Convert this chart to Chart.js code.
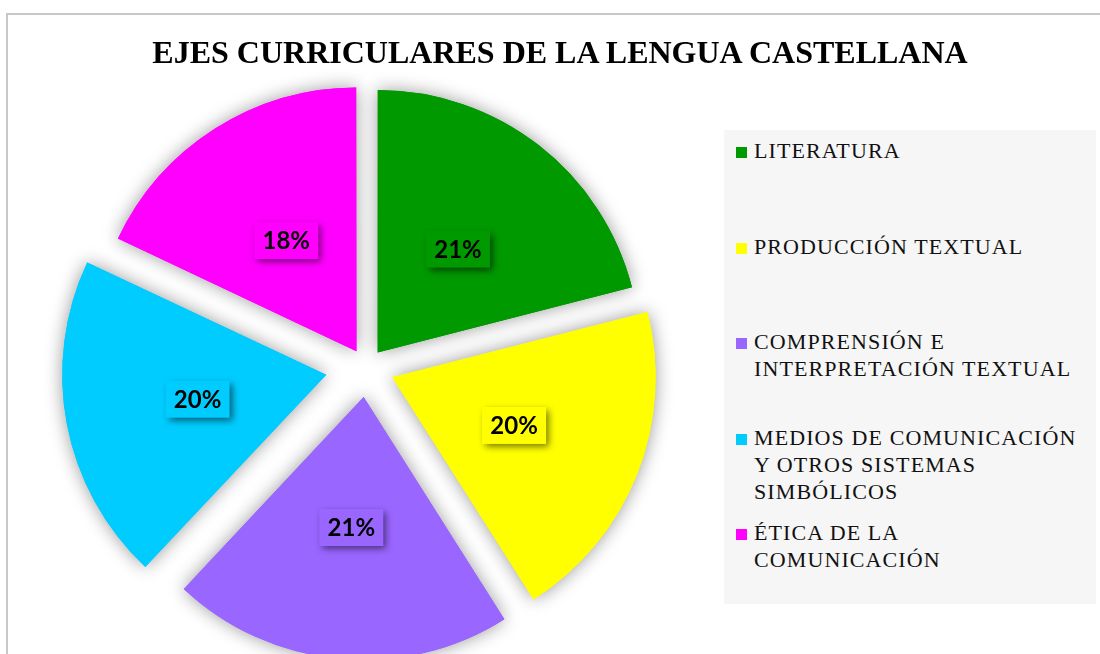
<!DOCTYPE html>
<html lang="es">
<head>
<meta charset="utf-8">
<title>Ejes curriculares de la lengua castellana</title>
<script src="https://cdn.jsdelivr.net/npm/chart.js@4.4.1/dist/chart.umd.min.js"></script>
<style>
  html, body { margin: 0; padding: 0; background: #fff; }
  body { width: 1100px; height: 654px; overflow: hidden; position: relative; }
  #marco { position: absolute; left: 6px; top: 13px; width: 1200px; height: 800px;
           border-top: 2px solid #c8c8c8; border-left: 2px solid #c8c8c8; }
  #titulo { position: absolute; left: 0; width: 1120px; top: 34px; text-align: center;
            font: bold 32px "Liberation Serif", "Times New Roman", serif; color: #000;
            white-space: nowrap; z-index: 2; }
  #lienzo { position: absolute; left: 0; top: 0; width: 733px; height: 734px; }
  #leyenda { position: absolute; left: 724px; top: 130px; width: 372px; height: 474px;
             background: #f6f6f6; z-index: 2; box-sizing: border-box; padding-top: 7px; }
  .item { position: relative; height: 95.5px; padding-left: 30px;
          font: 22px "Liberation Serif", "Times New Roman", serif; letter-spacing: 1.1px;
          line-height: 27px; color: #111; white-space: nowrap; }
  .item i { position: absolute; left: 12px; top: 10px; width: 11px; height: 11px; }
</style>
</head>
<body>
<div id="marco"></div>
<div id="titulo">EJES CURRICULARES DE LA LENGUA CASTELLANA</div>
<div id="lienzo"><canvas id="graficoEjes"></canvas></div>
<div id="leyenda"></div>
<script>
// --- datos ---
const categorias = [
  ['LITERATURA'],
  ['PRODUCCIÓN TEXTUAL'],
  ['COMPRENSIÓN E', 'INTERPRETACIÓN TEXTUAL'],
  ['MEDIOS DE COMUNICACIÓN', 'Y OTROS SISTEMAS', 'SIMBÓLICOS'],
  ['ÉTICA DE LA', 'COMUNICACIÓN']
];
const porcentajes = [21, 20, 21, 20, 18];
const colores = ['#009900', '#ffff00', '#9966ff', '#00ccff', '#ff00ff'];

// sombra suave bajo las porciones (se pinta antes, luego encima van las porciones limpias)
const sombraPorciones = {
  id: 'sombraPorciones',
  beforeDatasetsDraw(chart) {
    const ctx = chart.ctx;
    const meta = chart.getDatasetMeta(0);
    ctx.save();
    ctx.shadowColor = 'rgba(0,0,0,0.4)';
    ctx.shadowBlur = 18;
    meta.data.forEach(arc => arc.draw(ctx));
    ctx.restore();
  }
};

// etiquetas de porcentaje con caja y sombra
const etiquetas = {
  id: 'etiquetas',
  afterDatasetsDraw(chart) {
    const ctx = chart.ctx;
    const meta = chart.getDatasetMeta(0);
    const datos = chart.data.datasets[0].data;
    const total = datos.reduce((a, b) => a + b, 0);
    meta.data.forEach((arc, i) => {
      const ang = (arc.startAngle + arc.endAngle) / 2;
      const d = (arc.options.offset || 0) / 4 + arc.outerRadius / 2;
      const x = arc.x + Math.cos(ang) * d;
      const y = arc.y + Math.sin(ang) * d;
      const w = 64, h = 37;
      ctx.save();
      ctx.shadowColor = 'rgba(0,0,0,0.55)';
      ctx.shadowBlur = 7;
      ctx.shadowOffsetX = 3;
      ctx.shadowOffsetY = 3;
      ctx.fillStyle = colores[i];
      ctx.fillRect(x - w / 2, y - h / 2, w, h);
      ctx.restore();
      ctx.save();
      ctx.font = 'bold 24px Lato, "Liberation Sans", sans-serif';
      ctx.fillStyle = '#000';
      ctx.textAlign = 'center';
      ctx.textBaseline = 'middle';
      ctx.fillText(Math.round(datos[i] / total * 100) + '%', x, y + 1);
      ctx.restore();
    });
  }
};

const ctx = document.getElementById('graficoEjes').getContext('2d');
new Chart(ctx, {
  type: 'pie',
  data: {
    labels: categorias,
    datasets: [{
      label: 'Porcentaje',
      data: porcentajes,
      backgroundColor: colores,
      borderWidth: 0,
      radius: 262,
      offset: [73, 111, 121, 164, 75],
      hoverOffset: 0
    }]
  },
  options: {
    responsive: true,
    maintainAspectRatio: false,
    animation: false,
    layout: { padding: 0 },
    plugins: {
      legend: { display: false },
      title: { display: false },
      tooltip: { enabled: false }
    }
  },
  plugins: [sombraPorciones, etiquetas]
});

// leyenda a la derecha
const leyenda = document.getElementById('leyenda');
categorias.forEach((lineas, i) => {
  const div = document.createElement('div');
  div.className = 'item';
  div.innerHTML = '<i style="background:' + colores[i] + '"></i>' + lineas.join('<br>');
  leyenda.appendChild(div);
});
</script>
</body>
</html>
